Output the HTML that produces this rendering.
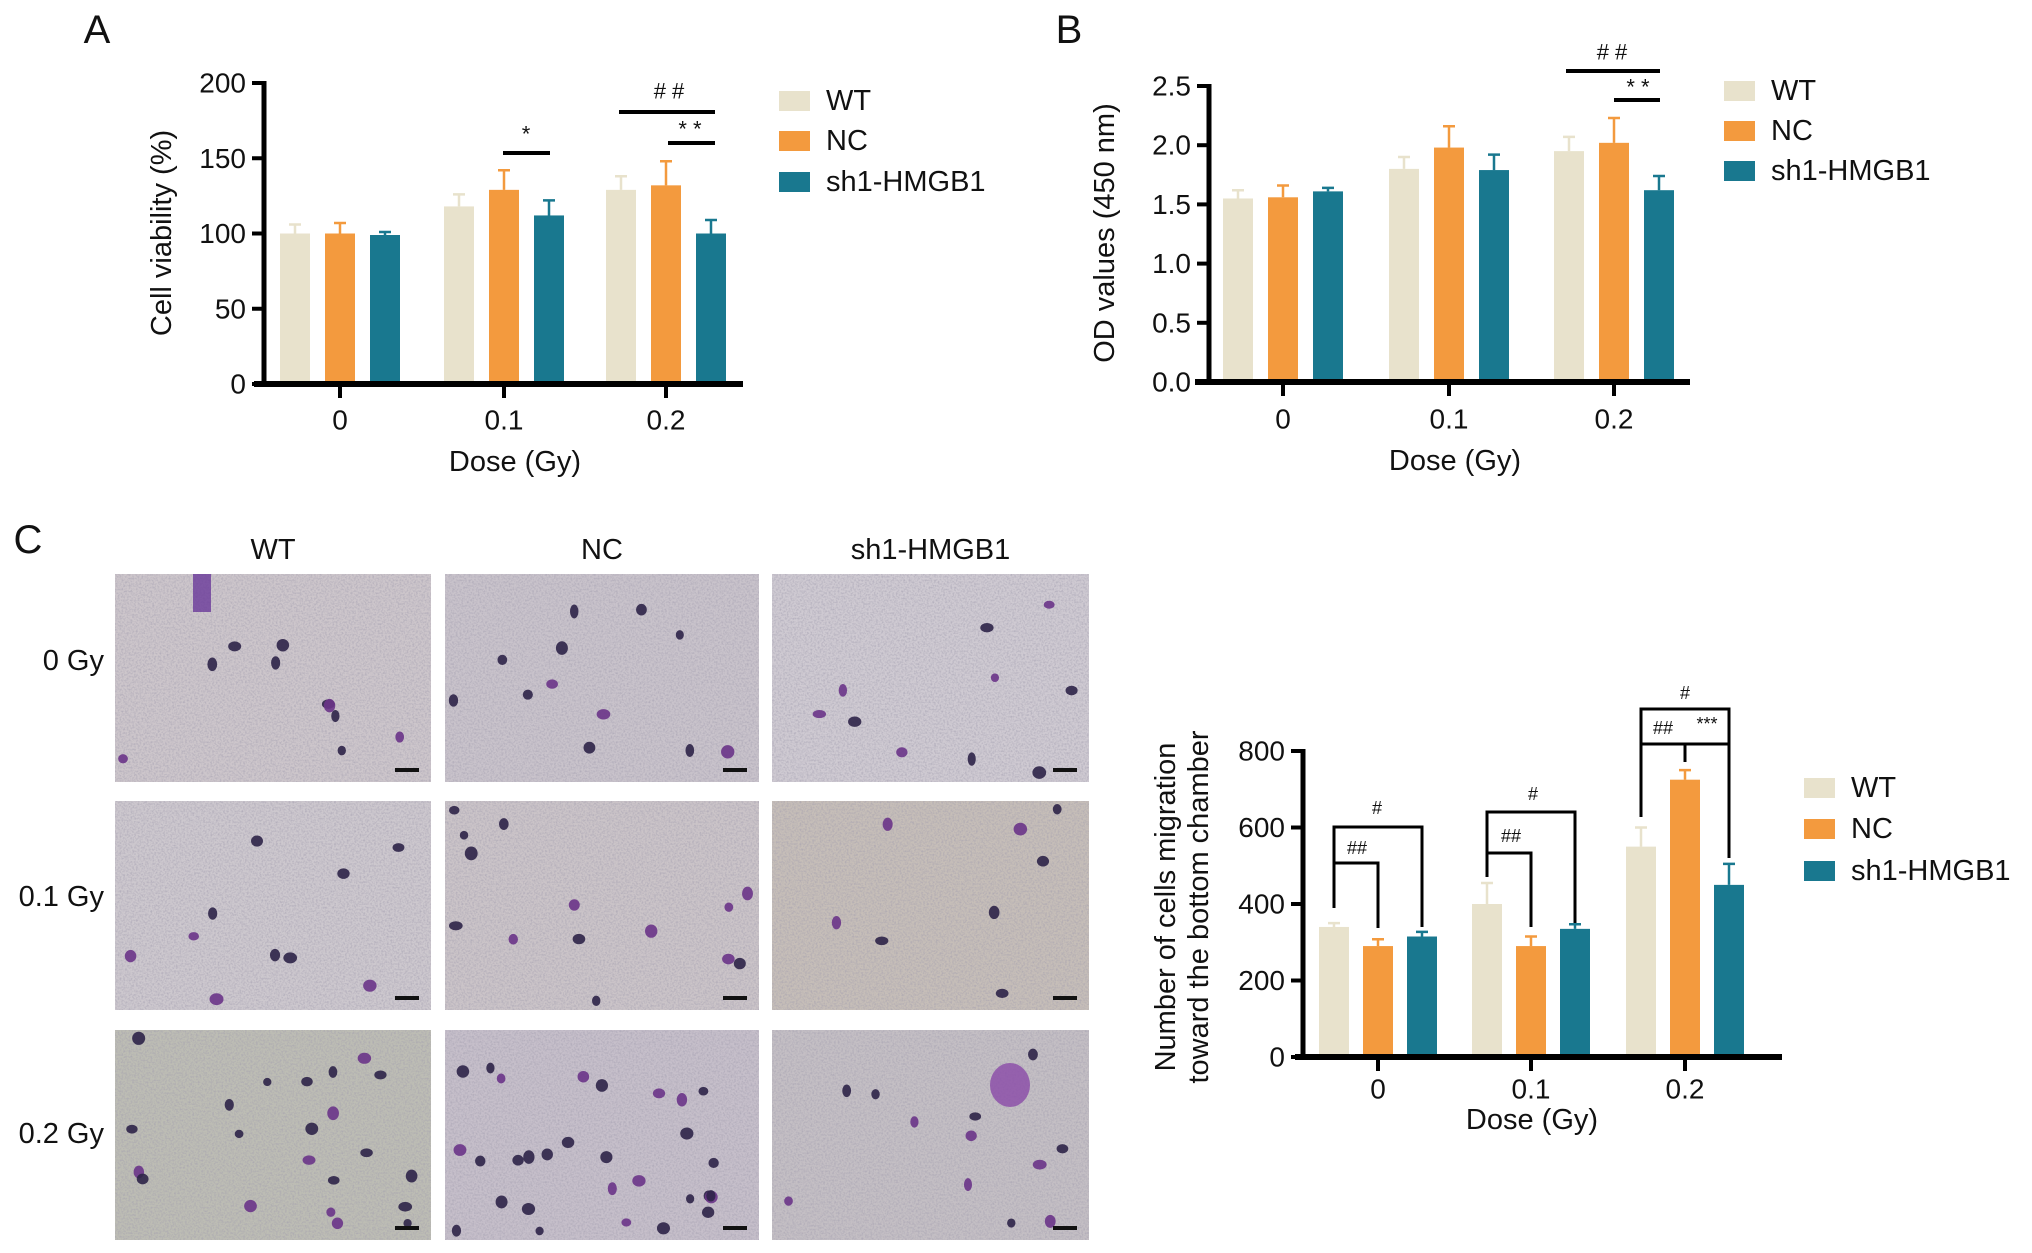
<!DOCTYPE html>
<html><head><meta charset="utf-8"><style>
html,body{margin:0;padding:0;background:#fff;}
svg{display:block;font-family:"Liberation Sans",Arial,sans-serif;}
</style></head><body>
<svg id="fig" width="2032" height="1253" viewBox="0 0 2032 1253" xmlns="http://www.w3.org/2000/svg">
<defs>
<filter id="grain" x="0" y="0" width="100%" height="100%">
<feTurbulence type="fractalNoise" baseFrequency="0.55" numOctaves="2" seed="3" result="n"/>
<feColorMatrix in="n" type="matrix" values="0 0 0 0 0.35  0 0 0 0 0.33  0 0 0 0 0.42  0 0 0 -2.2 1.35"/>
</filter>
</defs>
</svg>
<script>
// ---- data ----
const categories = ["0","0.1","0.2"];
const seriesNames = ["WT","NC","sh1-HMGB1"];
const colors = ["#e8e2cc","#f39a3e","#19788f"];
const aWT = [100,118,129], aNC = [100,129,132], aSH = [99,112,100];
const aWTerr = [6,8,9], aNCerr = [7,13,16], aSHerr = [2,10,9];
const aTicks = [0,50,100,150,200];
const bWT = [1.55,1.80,1.95], bNC = [1.56,1.98,2.02], bSH = [1.61,1.79,1.62];
const bWTerr = [0.07,0.10,0.12], bNCerr = [0.10,0.18,0.21], bSHerr = [0.03,0.13,0.12];
const bTicks = ["0.0","0.5","1.0","1.5","2.0","2.5"];
const cWT = [340,400,550], cNC = [290,290,725], cSH = [315,335,450];
const cWTerr = [10,55,50], cNCerr = [18,25,25], cSHerr = [12,12,55];
const cTicks = [0,200,400,600,800];

const svg = document.getElementById('fig');
const NS = "http://www.w3.org/2000/svg";
function mk(tag, attrs, parent){const e=document.createElementNS(NS,tag);for(const k in attrs)e.setAttribute(k,attrs[k]);(parent||svg).appendChild(e);return e;}
function txt(s,x,y,size,anchor,parent,extra){const t=mk('text',Object.assign({x:x,y:y,'font-size':size,'text-anchor':anchor||'middle','dominant-baseline':'central',fill:'#111'},extra||{}),parent);t.textContent=s;return t;}

function chart(cfg){
  const g=mk('g',{});
  
  
  const y=v=>cfg.y0-(v-cfg.vmin)/(cfg.vmax-cfg.vmin)*(cfg.y0-cfg.y1);
  const x=(i,s)=>cfg.cx[i]+(s-1)*cfg.sp;
  const vals=[cfg.s1,cfg.s2,cfg.s3], errs=[cfg.e1,cfg.e2,cfg.e3];
  for(let s=0;s<3;s++)for(let i=0;i<3;i++){
    const xc=x(i,s), top=y(vals[s][i]), et=y(vals[s][i]+errs[s][i]);
    const r=mk('rect',{x:xc-cfg.bw/2,y:top,width:cfg.bw,height:cfg.y0-top,fill:colors[s]},g);
    
    
    const eb=mk('path',{d:`M${xc} ${top}V${et}M${xc-6} ${et}H${xc+6}`,stroke:colors[s],'stroke-width':2.5,fill:'none'},g);
    
    
  }
  const ya=mk('path',{d:`M${cfg.ax} ${cfg.y1-2}V${cfg.y0+3}`,stroke:'#000','stroke-width':5},g);
  
  
  const xa=mk('path',{d:`M${cfg.xs} ${cfg.y0}H${cfg.xe}`,stroke:'#000','stroke-width':6},g);
  
  
  cfg.ticks.forEach(t=>{
    const yy=y(parseFloat(t));
    mk('path',{d:`M${cfg.ax-12} ${yy}H${cfg.ax}`,stroke:'#000','stroke-width':4},g);
    const l=txt(String(t),cfg.ax-18,yy,28,'end',g);
    
    
  });
  categories.forEach((c,i)=>{
    mk('path',{d:`M${cfg.cx[i]} ${cfg.y0}V${cfg.y0+14}`,stroke:'#000','stroke-width':4},g);
    const l=txt(c,cfg.cx[i],cfg.xl,28,'middle',g);
    
    
  });
  const xt=txt('Dose (Gy)',cfg.xtx,cfg.xty,29,'middle',g);
  
  
  cfg.ytitle.forEach((line,k)=>{
    const t=txt(line,0,0,29,'middle',g,{transform:`translate(${cfg.ytx[k]},${cfg.yty}) rotate(-90)`});
    
    
  });
  seriesNames.forEach((n,s)=>{
    const yy=cfg.ly[s];
    const r=mk('rect',{x:cfg.lx,y:yy-10,width:31,height:20,fill:colors[s]},g);
    
    
    const t=txt(n,cfg.lx+47,yy,29,'start',g);
    
    
  });
  return {g,y,x};
}

const A=chart({name:'chart-a-cell-viability',s1:aWT,s2:aNC,s3:aSH,e1:aWTerr,e2:aNCerr,e3:aSHerr,ticks:aTicks,
 vmin:0,vmax:200,y0:384,y1:83,ax:264,xs:254,xe:743,cx:[340,504,666],sp:45,bw:30,xl:420,
 xtx:515,xty:462,ytitle:['Cell viability (%)'],ytx:[162],yty:233,lx:779,ly:[101,141,182]});
function sig(g,s,x,y,size){const t=txt(s,x,y,size||22,'middle',g);}
function line(g,d,w){const p=mk('path',{d:d,stroke:'#000','stroke-width':w||3,fill:'none'},g);}
line(A.g,'M503 153H550',4); sig(A.g,'*',526,134);
line(A.g,'M619 112H715',4); sig(A.g,'# #',669,91);
line(A.g,'M668 143H715',4); sig(A.g,'* *',690,129);
txt('A',97,30,40,'middle');

const B=chart({name:'chart-b-od-values',s1:bWT,s2:bNC,s3:bSH,e1:bWTerr,e2:bNCerr,e3:bSHerr,ticks:bTicks,
 vmin:0,vmax:2.5,y0:382,y1:86,ax:1209,xs:1195,xe:1690,cx:[1283,1449,1614],sp:45,bw:30,xl:419,
 xtx:1455,xty:461,ytitle:['OD values (450 nm)'],ytx:[1105],yty:233,lx:1724,ly:[91,131,171]});
line(B.g,'M1566 71H1660',4); sig(B.g,'# #',1612,52);
line(B.g,'M1614 100H1660',4); sig(B.g,'* *',1638,87);
txt('B',1069,30,40,'middle');

const C=chart({name:'chart-c-migration',s1:cWT,s2:cNC,s3:cSH,e1:cWTerr,e2:cNCerr,e3:cSHerr,ticks:cTicks,
 vmin:0,vmax:800,y0:1057,y1:751,ax:1303,xs:1295,xe:1782,cx:[1378,1531,1685],sp:44,bw:30,xl:1089,
 xtx:1532,xty:1120,ytitle:['Number of cells migration','toward the bottom chamber'],ytx:[1166,1199],yty:907,lx:1804,ly:[788,829,871]});
line(C.g,'M1334 908V827H1422V927');
line(C.g,'M1334 863H1378V928');
sig(C.g,'#',1377,808,18); sig(C.g,'##',1357,848,18);
line(C.g,'M1487 877V812H1575V923');
line(C.g,'M1487 853H1531V927');
sig(C.g,'#',1533,794,18); sig(C.g,'##',1511,836,18);
line(C.g,'M1641 817V709H1729V858');
line(C.g,'M1641 744H1729M1685 744V762');
sig(C.g,'#',1685,693,18); sig(C.g,'##',1663,728,18); sig(C.g,'***',1707,724,18);
txt('C',28,540,40,'middle');

const colX=[115,445,772], colW=[316,314,317];
const rowY=[574,801,1030], rowH=[208,209,210];
const rowLabelY=[661,897,1134];
const colNames=['WT','NC','sh1-HMGB1'], rowNames=['0 Gy','0.1 Gy','0.2 Gy'];
const bases=[["#cdc6cb","#c9c3cb","#cfcad2"],["#cdc8ce","#cbc4c8","#c6beb8"],["#bdbdb4","#c6bfca","#c4bfc4"]];
const cellCounts=[[10,12,10],[10,14,8],[22,30,12]];
colNames.forEach((n,c)=>{const t=txt(n,colX[c]+colW[c]/2,550,29,'middle');});
rowNames.forEach((n,r)=>{const t=txt(n,104,rowLabelY[r],29,'end');});
let seed=7; function rnd(){seed=(seed*16807)%2147483647;return seed/2147483647;}
for(let r=0;r<3;r++)for(let c=0;c<3;c++){
  const g=mk('g',{});
  
  
  mk('rect',{x:colX[c],y:rowY[r],width:colW[c],height:rowH[r],fill:bases[r][c]},g);
  mk('rect',{x:colX[c],y:rowY[r],width:colW[c],height:rowH[r],fill:'#fff',filter:'url(#grain)',opacity:0.55},g);
  for(let k=0;k<cellCounts[r][c];k++){
    mk('ellipse',{cx:colX[c]+8+rnd()*(colW[c]-16),cy:rowY[r]+8+rnd()*(rowH[r]-16),rx:4+rnd()*3,ry:4+rnd()*3,fill:rnd()<0.6?'#2e2448':'#6a3488',opacity:0.9},g);
  }
  mk('rect',{x:colX[c]+colW[c]-36,y:rowY[r]+rowH[r]-14,width:24,height:4,fill:'#111'},g);
}
mk('ellipse',{cx:1010,cy:1085,rx:20,ry:22,fill:'#8a4aa8',opacity:0.8});
mk('rect',{x:193,y:574,width:18,height:38,fill:'#6a3a9a',opacity:0.8});
</script>
</body></html>
